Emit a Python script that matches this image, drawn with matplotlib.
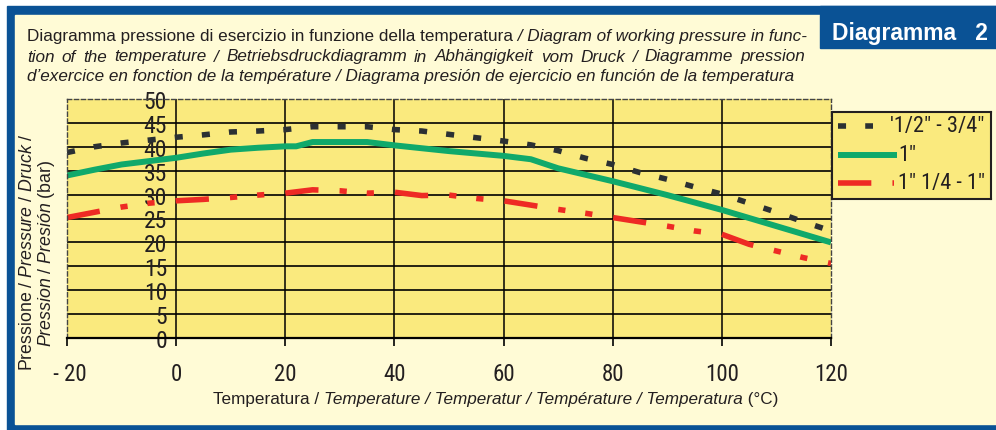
import numpy as np
import matplotlib.pyplot as plt
from matplotlib import font_manager as fm
from matplotlib.patches import Rectangle
from matplotlib.text import Annotation

temp = [-20, -15, -10, -5, 0, 5, 10, 15, 20, 25, 30, 35, 40, 45, 50, 55, 60,
        65, 70, 75, 80, 85, 90, 95, 100, 105, 110, 115, 120]
p_12_34 = [38.8, 40.0, 40.8, 41.4, 42.0, 42.5, 43.1, 43.3, 43.6, 44.2, 44.2, 44.2,
           43.6, 43.3, 42.6, 41.9, 41.2, 40.4, 39.2, 37.6, 36.3, 34.6, 33.2, 31.6,
           30.1, 28.2, 26.3, 24.3, 22.4]
p_114_112 = [25.2, 26.3, 27.4, 28.2, 28.7, 29.0, 29.4, 29.9, 30.3, 31.0, 30.8, 30.3,
             30.5, 29.8, 29.9, 29.2, 28.7, 27.8, 26.9, 26.1, 25.2, 24.3, 23.4, 22.4,
             21.7, 19.6, 18.2, 16.8, 15.6]
temp_1 = [-20, -15, -10, -5, 0, 5, 10, 15, 20, 22, 25, 35, 40, 50, 60, 65, 70,
          80, 90, 100, 110, 120]
p_1 = [34.0, 35.2, 36.3, 37.0, 37.7, 38.6, 39.4, 39.8, 40.1, 40.1, 41.0, 41.0,
       40.3, 39.1, 38.1, 37.4, 35.5, 32.8, 29.9, 26.8, 23.4, 20.0]

xticks = [-20, 0, 20, 40, 60, 80, 100, 120]
xtick_labels = [' - 20', '0', '20', '40', '60', '80', '100', '120']
yticks = list(range(0, 51, 5))

leg_labels = ['\'1/2" - 3/4"', '1"', '1" 1/4 - 1" 1/2']

# Colori
BLUE = '#0A5295'
CREAM = '#FFFBD6'
YELLOW = '#FAEA7E'
INK = '#231F20'
DARK = '#2B3033'
GREEN = '#10A96B'
RED = '#EE2A24'

# carattere stretto per i numeri, se disponibile
names = {f.name for f in fm.fontManager.ttflist}
NARROW = 'Liberation Sans'
for cand in ['Roboto Condensed', 'Liberation Sans Narrow', 'PT Sans Narrow',
             'Archivo Narrow', 'Asap Condensed']:
    if cand in names:
        NARROW = cand
        break
SANS = 'Liberation Sans'
plt.rcParams['font.family'] = [SANS, 'DejaVu Sans']
plt.rcParams['mathtext.fontset'] = 'custom'
plt.rcParams['mathtext.rm'] = SANS
plt.rcParams['mathtext.it'] = SANS + ':italic'

W, H = 996, 431


def box(x0, y0, x1, y1):
    # rettangolo in pixel (origine in alto a sinistra) -> frazioni di figura
    return (x0 / W, 1 - y1 / H, (x1 - x0) / W, (y1 - y0) / H)


def rect(x0, y0, x1, y1, color, z):
    b = box(x0, y0, x1, y1)
    fig.add_artist(Rectangle(b[:2], b[2], b[3], transform=fig.transFigure,
                             color=color, zorder=z))


fig = plt.figure(figsize=(W / 100, H / 100), dpi=100)
fig.patch.set_facecolor('white')
renderer = fig.canvas.get_renderer()

# cornice blu e sfondo crema
rect(7, 7, W, H, BLUE, -3)
rect(15, 16, W, 425, CREAM, -2)
rect(820, 7, W, 49, BLUE, -1)
fig.text(832 / W, 1 - 40 / H, 'Diagramma   2', color='white', fontsize=16.5,
         fontweight='bold', family=SANS, va='baseline')

TS = 12.3


def rich(x_px, y_px, parts, size=TS):
    t = fig.text(x_px / W, 1 - y_px / H, parts[0][0], style=parts[0][1],
                 fontsize=size, color=INK, va='baseline')
    for s, st in parts[1:]:
        t = Annotation(s, xy=(1, 0), xycoords=t, va='bottom', ha='left',
                       style=st, fontsize=size, color=INK)
        fig.add_artist(t)


def justified(x0_px, x1_px, y_px, text, style, size=TS):
    words = text.split(' ')
    arts = [fig.text(0, 1 - y_px / H, w, style=style, fontsize=size, color=INK,
                     va='baseline') for w in words]
    widths = [a.get_window_extent(renderer).width for a in arts]
    gap = (x1_px - x0_px - sum(widths)) / (len(words) - 1)
    x = x0_px
    for a, w in zip(arts, widths):
        a.set_x(x / W)
        x += w + gap


rich(27, 41.5, [('Diagramma pressione di esercizio in funzione della temperatura', 'normal'),
                (' / Diagram of working pressure in func-', 'italic')])
justified(27, 805, 61.5, 'tion of the temperature / Betriebsdruckdiagramm in Abhängigkeit'
          ' vom Druck / Diagramme pression', 'italic')
rich(27, 80.5, [('d’exercice en fonction de la température / Diagrama presión de ejercicio'
                 ' en función de la temperatura', 'italic')])
rich(213, 404.5, [('Temperatura / ', 'normal'),
                  ('Temperature / Temperatur / Température / Temperatura', 'italic'),
                  (' (°C)', 'normal')])

fig.text(28 / W, 1 - 252 / H, r'Pressione / $\mathit{Pressure\ /\ Druck\ /}$',
         rotation=90, ha='center', va='center', fontsize=12.8, color=INK)
fig.text(47 / W, 1 - 253 / H, r'$\mathit{Pression\ /\ Presión}$ (bar)',
         rotation=90, ha='center', va='center', fontsize=12.8, color=INK)

# area del grafico
ax = fig.add_axes(box(67, 100, 831, 339))
ax.set_facecolor(YELLOW)
ax.set_xlim(-20, 120)
ax.set_ylim(0, 50)
ax.set_xticks(xticks)
ax.set_xticklabels(xtick_labels, family=NARROW)
ax.set_yticks(yticks)
ax.set_yticklabels([str(v) for v in yticks], family=NARROW)
ax.grid(True, color='black', lw=1.2)
for t in ax.xaxis.get_major_ticks():
    t.gridline.set_linewidth(1.1)
for t in (ax.xaxis.get_major_ticks()[0], ax.xaxis.get_major_ticks()[-1],
          ax.yaxis.get_major_ticks()[-1]):
    t.gridline.set_visible(False)
for s in ('top', 'left', 'right'):
    ax.spines[s].set_linestyle((0, (3, 2)))
    ax.spines[s].set_linewidth(1.0)
    ax.spines[s].set_color('#444444')
ax.spines['bottom'].set_linewidth(1.6)
ax.tick_params(axis='y', length=0, pad=-72, labelsize=17, labelcolor=INK)
ax.tick_params(axis='x', direction='out', length=6, width=1.2, pad=11,
               labelsize=16.5, labelcolor=INK)

st_dark = dict(color=DARK, lw=4.0, dashes=(1.45, 3.45), dash_capstyle='butt')
st_green = dict(color=GREEN, lw=4.3, solid_capstyle='butt')
st_red = dict(color=RED, lw=4.0, dashes=(6.0, 3.8, 1.3, 3.6, 1.3, 3.8), dash_capstyle='butt')

ax.plot(temp, p_12_34, **st_dark)
ax.plot(temp_1, p_1, **st_green)
ax.plot(temp, p_114_112, **st_red)

# legenda (tagliata a destra come nell'originale)
lax = fig.add_axes(box(832, 113, 991, 200))
lax.set_facecolor(YELLOW)
lax.set_xlim(0, 159)
lax.set_ylim(87, 0)
lax.set_xticks([])
lax.set_yticks([])
for s in lax.spines.values():
    s.set_linewidth(1.5)
    s.set_color(INK)
rows = [14, 43, 71]
lax.plot([6, 41], [rows[0]] * 2, **st_dark)
lax.plot([6, 65], [rows[1]] * 2, **st_green)
lax.plot([6, 62], [rows[2]] * 2, **st_red)
for y, lab, x in zip(rows, leg_labels, [58, 66, 66]):
    lax.text(x, y, lab, va='center', ha='left', fontsize=16, family=NARROW,
             color=INK, clip_on=True)

fig.savefig('out.png', dpi=100, facecolor=fig.get_facecolor())
